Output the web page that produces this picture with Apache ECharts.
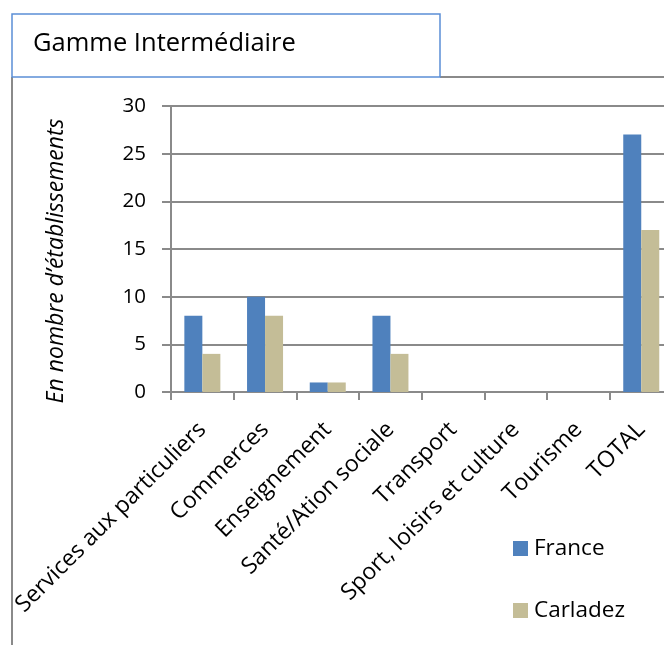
<!DOCTYPE html>
<html>
<head>
<meta charset="utf-8">
<script src="https://cdn.jsdelivr.net/npm/echarts@6/dist/echarts.min.js"></script>
<style>
html,body{margin:0;padding:0;background:#fff;}
#chart{width:664px;height:645px;}
</style>
</head>
<body>
<div id="chart"></div>
<script>
const categories = ["Services aux particuliers","Commerces","Enseignement","Santé/Ation sociale","Transport","Sport, loisirs et culture","Tourisme","TOTAL"];
const france = [8,10,1,8,0,0,0,27];
const carladez = [4,8,1,4,0,0,0,17];
const yTicks = [0,5,10,15,20,25,30];
const titleText = "Gamme Intermédiaire";
const yName = "En nombre d\u2019établissements";

const FONT = "'Open Sans', sans-serif";
const GRAY = "#8a8a8a";
const chart = echarts.init(document.getElementById('chart'), null, {renderer:'canvas'});
chart.setOption({
  animation:false,
  backgroundColor:'#fff',
  graphic:[
    {type:'line', shape:{x1:12,y1:77,x2:12,y2:645}, style:{stroke:GRAY,lineWidth:2}},
    {type:'line', shape:{x1:440,y1:77,x2:664,y2:77}, style:{stroke:GRAY,lineWidth:2}},
    {type:'rect', shape:{x:12,y:14,width:428,height:63}, style:{fill:'#fff',stroke:'#5b8fd6',lineWidth:1.5}},
    {type:'text', left:33, top:31, style:{text:titleText, font:"25.5px 'Open Sans', sans-serif", fill:'#000'}},
    {type:'text', x:56, y:261, rotation:Math.PI/2,
      style:{text:yName, font:"italic 23px 'Open Sans', sans-serif", fill:'#000', align:'center', verticalAlign:'middle'}}
  ],
  grid:{left:171, top:106, width:501.6, height:286, containLabel:false, outerBoundsMode:'none'},
  legend:{
    orient:'vertical', left:513, top:537, padding:0, itemGap:39, itemWidth:15, itemHeight:15,
    icon:'rect',
    textStyle:{fontFamily:FONT, fontSize:22.5, color:'#000', padding:[0,0,0,1]},
    data:['France','Carladez']
  },
  xAxis:{
    type:'category', data:categories,
    axisLine:{show:true, lineStyle:{color:GRAY,width:2}},
    axisTick:{show:true, length:8, lineStyle:{color:GRAY,width:2}},
    axisLabel:{interval:0, rotate:45, margin:34, fontFamily:FONT, fontSize:23, color:'#000'}
  },
  yAxis:{
    type:'value', min:0, max:30, interval:5,
    axisLine:{show:true, lineStyle:{color:GRAY,width:2}},
    axisTick:{show:true, length:9, lineStyle:{color:GRAY,width:2}},
    splitLine:{show:true, lineStyle:{color:GRAY,width:2}},
    axisLabel:{margin:25, fontFamily:FONT, fontSize:20.5, color:'#000'}
  },
  series:[
    {name:'France', type:'bar', data:france, barWidth:18, barGap:'0%', itemStyle:{color:'#4f81bd'}},
    {name:'Carladez', type:'bar', data:carladez, barWidth:18, barGap:'0%', itemStyle:{color:'#c4bd97'}}
  ]
});
</script>
</body>
</html>
